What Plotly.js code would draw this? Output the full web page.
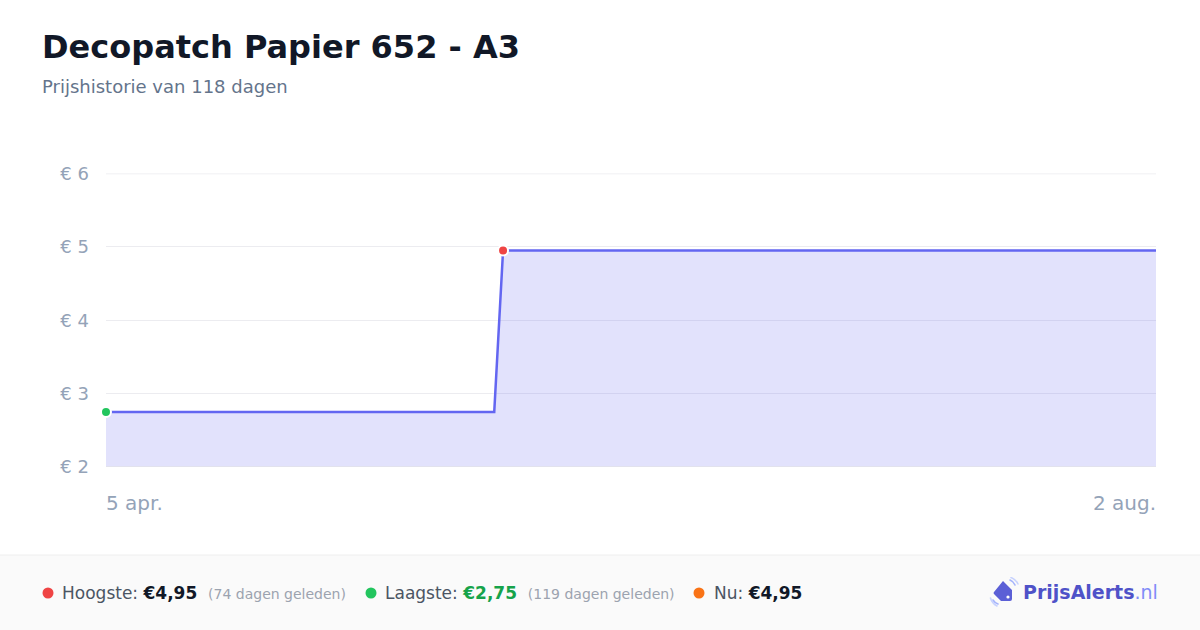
<!DOCTYPE html>
<html>
<head>
<meta charset="utf-8">
<script src="https://cdn.plot.ly/plotly-3.0.1.min.js"></script>
<style>
html,body{margin:0;padding:0;background:#fff;}
#chart{width:1200px;height:630px;}
</style>
</head>
<body>
<div id="chart"></div>
<script>
// ---- data ----
const dates = ['2025-04-05', '2025-05-19', '2025-05-20', '2025-08-02'];
const prices = [2.75, 2.75, 4.95, 4.95];
const yTicks = [2, 3, 4, 5, 6];
const xRange = ['2025-04-05', '2025-08-02'];
const xLabels = ['5 apr.', '2 aug.'];
const lowIdx = 0;
const highIdx = 2;
const titleText = 'Decopatch Papier 652 - A3';
const subtitleText = 'Prijshistorie van 118 dagen';
const highText = '€4,95', highAgo = '(74 dagen geleden)';
const lowText = '€2,75', lowAgo = '(119 dagen geleden)';
const nowText = '€4,95';

const W = 1200, H = 630;
const px = x => x / W;
const py = y => 1 - y / H;
const FONT = 'DejaVu Sans, sans-serif';
const INDIGO = '#6366f1';

const traces = [
  {
    x: dates, y: prices, type: 'scatter', mode: 'lines',
    line: {color: INDIGO, width: 2.5},
    fill: 'tozeroy', fillcolor: 'rgba(99,102,241,0.19)',
    hoverinfo: 'skip'
  },
  {
    x: [dates[lowIdx]], y: [prices[lowIdx]], type: 'scatter', mode: 'markers',
    marker: {color: '#22c55e', size: 10, line: {color: '#ffffff', width: 2}},
    cliponaxis: false, hoverinfo: 'skip'
  },
  {
    x: [dates[highIdx]], y: [prices[highIdx]], type: 'scatter', mode: 'markers',
    marker: {color: '#ef4444', size: 10, line: {color: '#ffffff', width: 2}},
    cliponaxis: false, hoverinfo: 'skip'
  }
];

function dot(cx, cy, r, color) {
  return {type: 'circle', xref: 'paper', yref: 'paper',
    x0: px(cx - r), x1: px(cx + r), y0: py(cy + r), y1: py(cy - r),
    fillcolor: color, line: {width: 0}};
}

const topTick = yTicks[yTicks.length - 1];
const shapes = [
  {type: 'rect', xref: 'paper', yref: 'paper', x0: 0, x1: 1, y0: 0, y1: py(555),
   fillcolor: '#fafafa', line: {width: 0}, layer: 'below'},
  {type: 'line', xref: 'paper', yref: 'paper', x0: 0, x1: 1, y0: py(555), y1: py(555),
   line: {color: '#eeeeee', width: 1}},
  {type: 'line', xref: 'x', yref: 'y', x0: xRange[0], x1: xRange[1], y0: topTick, y1: topTick,
   line: {color: '#ececf0', width: 1.5}, layer: 'below'},
  {type: 'line', xref: 'x', yref: 'y', x0: xRange[0], x1: xRange[1], y0: yTicks[0], y1: yTicks[0],
   line: {color: '#e2e2e8', width: 1.5}},
  dot(48, 593, 5.5, '#ef4444'),
  dot(371, 593, 5.5, '#22c55e'),
  dot(699, 593, 5.5, '#f97316')
];

const legendFont = {family: FONT, size: 17, color: '#4b5563'};
function item(x, label, val, valColor, ago) {
  let t = label + ' <span style="font-weight:bold;color:' + valColor + '">' + val + '</span>';
  if (ago) t += '  <span style="font-size:14px;color:#9ca3af">' + ago + '</span>';
  return {xref: 'paper', yref: 'paper', x: px(x), y: py(593), xanchor: 'left', yanchor: 'middle',
    text: t, showarrow: false, font: legendFont};
}

const logoSvg = '<svg xmlns="http://www.w3.org/2000/svg" width="30" height="30" viewBox="0 0 30 30">' +
  '<path d="M4 23 A9 9 0 0 0 9 27" stroke="#a5b4fc" stroke-width="1.6" fill="none" stroke-linecap="round"/>' +
  '<path d="M1.5 21 A13 13 0 0 0 8 29" stroke="#c7d2fe" stroke-width="1.6" fill="none" stroke-linecap="round"/>' +
  '<path d="M21 3 A9 9 0 0 1 26 8" stroke="#a5b4fc" stroke-width="1.6" fill="none" stroke-linecap="round"/>' +
  '<path d="M22 0.5 A13 13 0 0 1 29 7" stroke="#c7d2fe" stroke-width="1.6" fill="none" stroke-linecap="round"/>' +
  '<path d="M14 4 L23 13 L23 22 Q23 24 21 24 L12 24 L5 17 Q4 16 5 15 Z" fill="#5b5fd6"/>' +
  '<circle cx="19" cy="20" r="1.6" fill="#ffffff"/>' +
  '</svg>';

const annotations = [
  {xref: 'paper', yref: 'paper', x: px(40), y: py(47), xanchor: 'left', yanchor: 'middle',
   text: '<b>' + titleText + '</b>', showarrow: false,
   font: {family: FONT, size: 32, color: '#111827'}},
  {xref: 'paper', yref: 'paper', x: px(40), y: py(87), xanchor: 'left', yanchor: 'middle',
   text: subtitleText, showarrow: false,
   font: {family: FONT, size: 18, color: '#64748b'}},
  {xref: 'x', yref: 'paper', x: xRange[0], y: py(503), xanchor: 'left', yanchor: 'middle',
   text: xLabels[0], showarrow: false, xshift: -2,
   font: {family: FONT, size: 20, color: '#94a3b8'}},
  {xref: 'x', yref: 'paper', x: xRange[1], y: py(503), xanchor: 'right', yanchor: 'middle',
   text: xLabels[1], showarrow: false, xshift: 2,
   font: {family: FONT, size: 20, color: '#94a3b8'}},
  item(60, 'Hoogste:', highText, '#111827', highAgo),
  item(383, 'Laagste:', lowText, '#16a34a', lowAgo),
  item(712, 'Nu:', nowText, '#111827', ''),
  {xref: 'paper', yref: 'paper', x: px(1160), y: py(592), xanchor: 'right', yanchor: 'middle',
   text: '<span style="font-weight:bold;color:#4f52c8">PrijsAlerts</span><span style="color:#818cf8">.nl</span>',
   showarrow: false, font: {family: FONT, size: 19, color: '#4f52c8'}}
];

const layout = {
  width: W, height: H,
  margin: {l: 0, r: 0, t: 0, b: 0, pad: 0},
  paper_bgcolor: '#ffffff', plot_bgcolor: '#ffffff',
  showlegend: false,
  xaxis: {
    type: 'date', range: xRange, domain: [px(106), px(1156)],
    showgrid: false, zeroline: false, showticklabels: false, ticks: '', fixedrange: true
  },
  yaxis: {
    range: [yTicks[0], topTick], domain: [py(467), py(173.5)],
    tickvals: yTicks, ticktext: yTicks.map(v => '€ ' + v),
    showgrid: true, gridcolor: '#ececf0', gridwidth: 1,
    zeroline: false, ticks: '', ticklabelstandoff: 16,
    tickfont: {family: FONT, size: 18, color: '#94a3b8'}, fixedrange: true
  },
  shapes: shapes,
  annotations: annotations,
  images: [{
    source: 'data:image/svg+xml;charset=utf-8,' + encodeURIComponent(logoSvg),
    xref: 'paper', yref: 'paper', x: px(989), y: py(577), sizex: px(30), sizey: 30 / H,
    xanchor: 'left', yanchor: 'top', sizing: 'contain', layer: 'above'
  }]
};

Plotly.newPlot('chart', traces, layout, {displayModeBar: false, staticPlot: true});
</script>
</body>
</html>
